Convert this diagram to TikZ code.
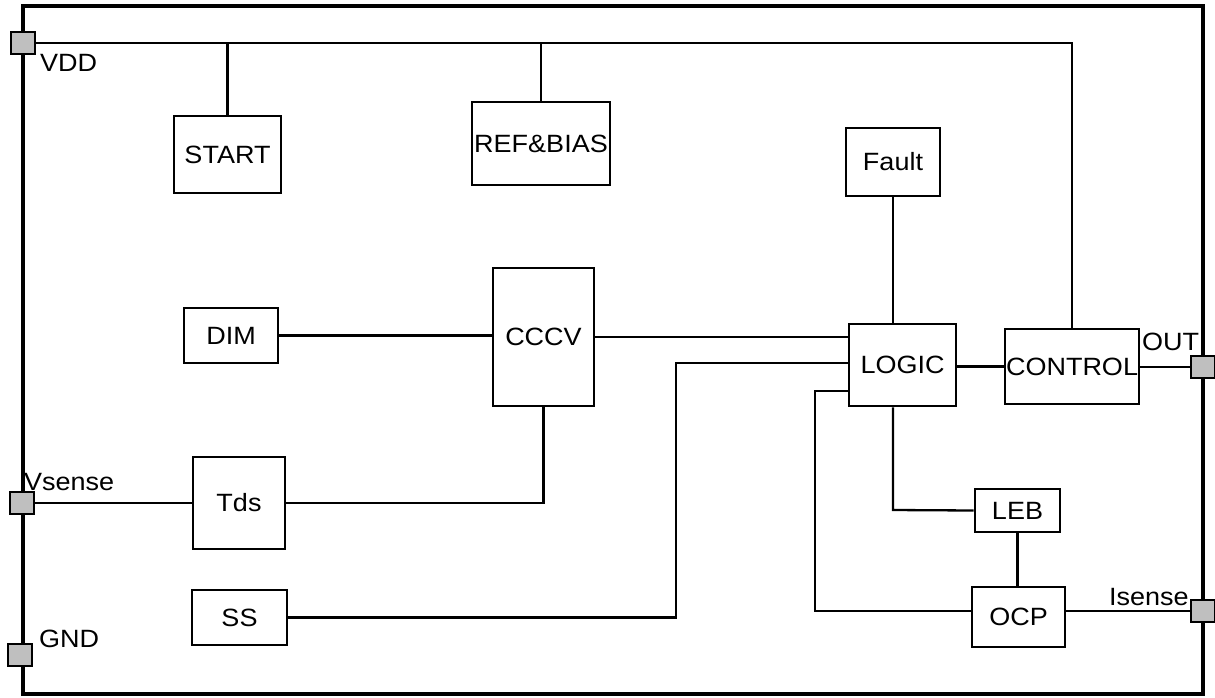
\documentclass[tikz,border=0pt]{standalone}
\usepackage{fontspec}
\setmainfont{Liberation Sans}[FakeStretch=1.08]
\begin{document}
\begin{tikzpicture}[x=1pt,y=-1pt,
  blk/.style={draw=black, line width=2.6pt, inner sep=0pt, font=\fontsize{25}{29}\selectfont},
  pin/.style={draw=black, fill=black!25, line width=2.2pt, minimum width=24pt, minimum height=22pt, inner sep=0pt},
  wire/.style={draw=black, line width=2.3pt},
  lbl/.style={inner sep=0pt, anchor=base west, font=\fontsize{25}{29}\selectfont}]
\useasboundingbox (0,0) rectangle (1215,697);
\fill[white] (0,0) rectangle (1215,697);
% frame
\draw[line width=4pt] (23,6) rectangle (1203,694);
% pins
\node[pin] (vdd) at (23,43) {};
\node[pin] (vsense) at (22,503) {};
\node[pin] (gnd) at (20,655) {};
\node[pin] (out) at (1203,367) {};
\node[pin] (isense) at (1203,611) {};
% pin labels
\node[lbl] (lvdd) at (40,71) {VDD};
\node[lbl] (lvsense) at (24,490) {Vsense};
\node[lbl] (lgnd) at (39,647) {GND};
\node[lbl] (lout) at (1142,350) {OUT};
\node[lbl] (lisense) at (1109,605) {Isense};
% blocks
\node[blk, minimum width=107pt, minimum height=77pt] (start) at (227.5,154.5) {START};
\node[blk, minimum width=138pt, minimum height=83pt] (ref) at (541,143.5) {REF\&BIAS};
\node[blk, minimum width=94pt, minimum height=68pt] (fault) at (893,162) {Fault};
\node[blk, minimum width=94pt, minimum height=55pt] (dim) at (231,335.5) {DIM};
\node[blk, minimum width=101pt, minimum height=138pt] (cccv) at (543.5,337) {CCCV};
\node[blk, minimum width=107pt, minimum height=82pt] (logic) at (902.5,365) {LOGIC};
\node[blk, minimum width=134pt, minimum height=75pt] (control) at (1072,366.5) {CONTROL};
\node[blk, minimum width=92pt, minimum height=92pt] (tds) at (239,503) {Tds};
\node[blk, minimum width=95pt, minimum height=55pt] (ss) at (239.5,617.5) {SS};
\node[blk, minimum width=85pt, minimum height=43pt] (leb) at (1017.5,510.5) {LEB};
\node[blk, minimum width=93pt, minimum height=60pt] (ocp) at (1018.5,617) {OCP};
% junction points
\coordinate (j1) at (676,363);
\coordinate (j2) at (893,510);
\coordinate (j3) at (815,391);
% wires
\draw[wire] (vdd.east) -| (control.north);
\draw[wire] (start.north) -- (start.north |- vdd.east);
\draw[wire] (ref.north) -- (ref.north |- vdd.east);
\draw[wire] (fault.south) -- (fault.south |- logic.north);
\draw[wire] (dim.east) -- (dim.east -| cccv.west);
\draw[wire] (cccv.east) -- (cccv.east -| logic.west);
\draw[wire] (ss.east) -| (j1) -- (j1 -| logic.west);
\draw[wire] (control.west -| logic.east) -- (control.west);
\draw[wire] (control.east |- out.west) -- (out.west);
\draw[wire] (j2 |- logic.south) -- (j2) -- (leb.west);
\draw[wire] (leb.south) -- (leb.south |- ocp.north);
\draw[wire] (ocp.west |- isense.west) -| (j3) -- (j3 -| logic.west);
\draw[wire] (ocp.east |- isense.west) -- (isense.west);
\draw[wire] (vsense.east) -- (tds.west |- vsense.east);
\draw[wire] (tds.east) -| (cccv.south);
\end{tikzpicture}
\end{document}
